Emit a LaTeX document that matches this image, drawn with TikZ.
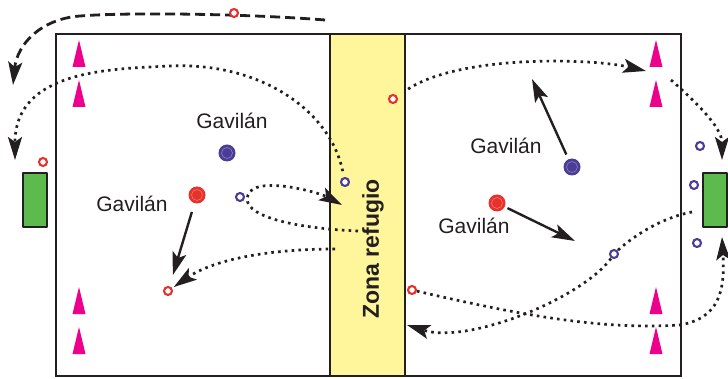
\documentclass[tikz,border=0pt]{standalone}
\usepackage{fontspec}
\setmainfont{Liberation Sans}
\usetikzlibrary{arrows.meta}
\definecolor{hawkred}{HTML}{E8312A}
\definecolor{hawkblue}{HTML}{4B3D97}
\definecolor{conepink}{HTML}{EC008C}
\definecolor{goalgreen}{HTML}{5DBA4C}
\definecolor{refugeyellow}{HTML}{FFF59B}
\definecolor{linegrey}{HTML}{231F20}
\pgfdeclarelayer{field}
\pgfdeclarelayer{trails}
\pgfsetlayers{field,trails,main}
\begin{document}
\begin{tikzpicture}[x=1pt,y=-1pt, line join=round, line cap=round,
    font=\fontsize{21}{24}\selectfont, >={Stealth[length=23pt,width=14pt,inset=5pt]},
    ring/.style={circle,draw=#1,fill=white,line width=2.1pt,minimum size=8pt,inner sep=0pt},
    hawk/.style={circle,fill=#1,minimum size=17pt,inner sep=0pt,
      path picture={\draw[white,opacity=.35,line width=.6pt] (path picture bounding box.center) circle (5.5);}},
    goal/.style={draw=linegrey,fill=goalgreen,line width=2pt,minimum width=24pt,minimum height=54pt,inner sep=0pt},
    trail/.style={->,linegrey,line width=2.7pt,line cap=butt,dash pattern=on 2.6pt off 4.2pt},
    run/.style={->,linegrey,line width=2.8pt,line cap=butt,dash pattern=on 10pt off 5pt},
    shot/.style={->,linegrey,line width=2.4pt,line cap=butt}]
  \useasboundingbox (0,0) rectangle (728,379);
  \begin{pgfonlayer}{field}
    \draw[linegrey,line width=2.5pt,line join=miter] (56,34) rectangle (681,376);
    \draw[linegrey,line width=2.5pt,line join=miter,fill=refugeyellow] (330,34) rectangle (405,376);
  \end{pgfonlayer}
  \foreach \cx in {79,656}
    \foreach \cy in {40,80,287,327}
      \fill[conepink] (\cx-6.5,\cy+27) -- (\cx,\cy) -- (\cx+6.5,\cy+27) -- cycle;
  \node[goal] (goal-l) at (35,200.5) {};
  \node[goal] (goal-r) at (715,200.5) {};
  \node[hawk=hawkblue] (hawk-bl) at (227,153) {};
  \node[hawk=hawkred] (hawk-rl) at (197,195) {};
  \node[hawk=hawkblue] (hawk-br) at (572,167) {};
  \node[hawk=hawkred] (hawk-rr) at (497,203) {};
  \node[ring=hawkred] (p-top) at (234,13) {};
  \node[ring=hawkred] (p-goal) at (43,162) {};
  \node[ring=hawkblue] (p-zone) at (345,182) {};
  \node[ring=hawkblue] (p-loop) at (240,197) {};
  \node[ring=hawkred] (p-caught) at (168,291) {};
  \node[ring=hawkred] (p-exit) at (393,99) {};
  \node[ring=hawkred] (p-back) at (412,290) {};
  \node[ring=hawkblue] (p-mid) at (614,254) {};
  \node[ring=hawkblue] (p-r1) at (700,146) {};
  \node[ring=hawkblue] (p-r2) at (694,185) {};
  \node[ring=hawkblue] (p-r3) at (697,243) {};
  \node[text=linegrey] (gav-1) at (232,121) {Gavilán};
  \node[text=linegrey] (gav-2) at (132,204) {Gavilán};
  \node[text=linegrey] (gav-3) at (506,146) {Gavilán};
  \node[text=linegrey] (gav-4) at (474,226) {Gavilán};
  \node[text=linegrey,rotate=90,font=\bfseries\fontsize{23}{26}\selectfont] (zone) at (373,249) {Zona refugio};
  \coordinate (d-start) at (325,20);
  \coordinate (d-end) at (13,85);
  \coordinate (t-left) at (15,160);
  \coordinate (loop-in) at (358,231);
  \coordinate (loop-out) at (342,205);
  \coordinate (z-out) at (335,249);
  \coordinate (cone-tr) at (646,71);
  \coordinate (cone-r) at (671,80);
  \coordinate (goal-top) at (722,160);
  \coordinate (goal-side) at (692,212);
  \coordinate (zone-r) at (407,325);
  \coordinate (goal-bot) at (722,237);
  \coordinate (bl-to) at (532,79);
  \coordinate (rr-to) at (575,241);
  \begin{pgfonlayer}{trails}
    \draw[run] (d-start) .. controls (250,14) and (130,12) .. (80,16) .. controls (40,19) and (17,45) .. (d-end);
    \draw[trail,shorten <=6pt] (p-zone) .. controls (330,110) and (260,62) .. (170,66) .. controls (110,69) and (15,70) .. (t-left);
    \draw[trail] (loop-in) .. controls (290,228) and (240,215) .. (248,195) .. controls (255,175) and (318,192) .. (loop-out);
    \draw[trail,shorten >=2pt] (z-out) .. controls (260,249) and (210,262) .. (p-caught);
    \draw[trail,shorten <=13pt] (p-exit) .. controls (460,55) and (590,58) .. (cone-tr);
    \draw[trail] (cone-r) .. controls (705,110) and (722,130) .. (goal-top);
    \draw[trail] (goal-side) .. controls (660,218) and (630,238) .. (p-mid.center) .. controls (590,295) and (470,345) .. (zone-r);
    \draw[trail] (p-back) .. controls (520,315) and (600,330) .. (680,325) .. controls (720,318) and (725,290) .. (goal-bot);
  \end{pgfonlayer}
  \draw[shot,shorten <=9pt,shorten >=11.5pt] (hawk-rl) -- (p-caught);
  \draw[shot,shorten <=5pt] (hawk-br) -- (bl-to);
  \draw[shot,shorten <=3pt] (hawk-rr) -- (rr-to);
\end{tikzpicture}
\end{document}
